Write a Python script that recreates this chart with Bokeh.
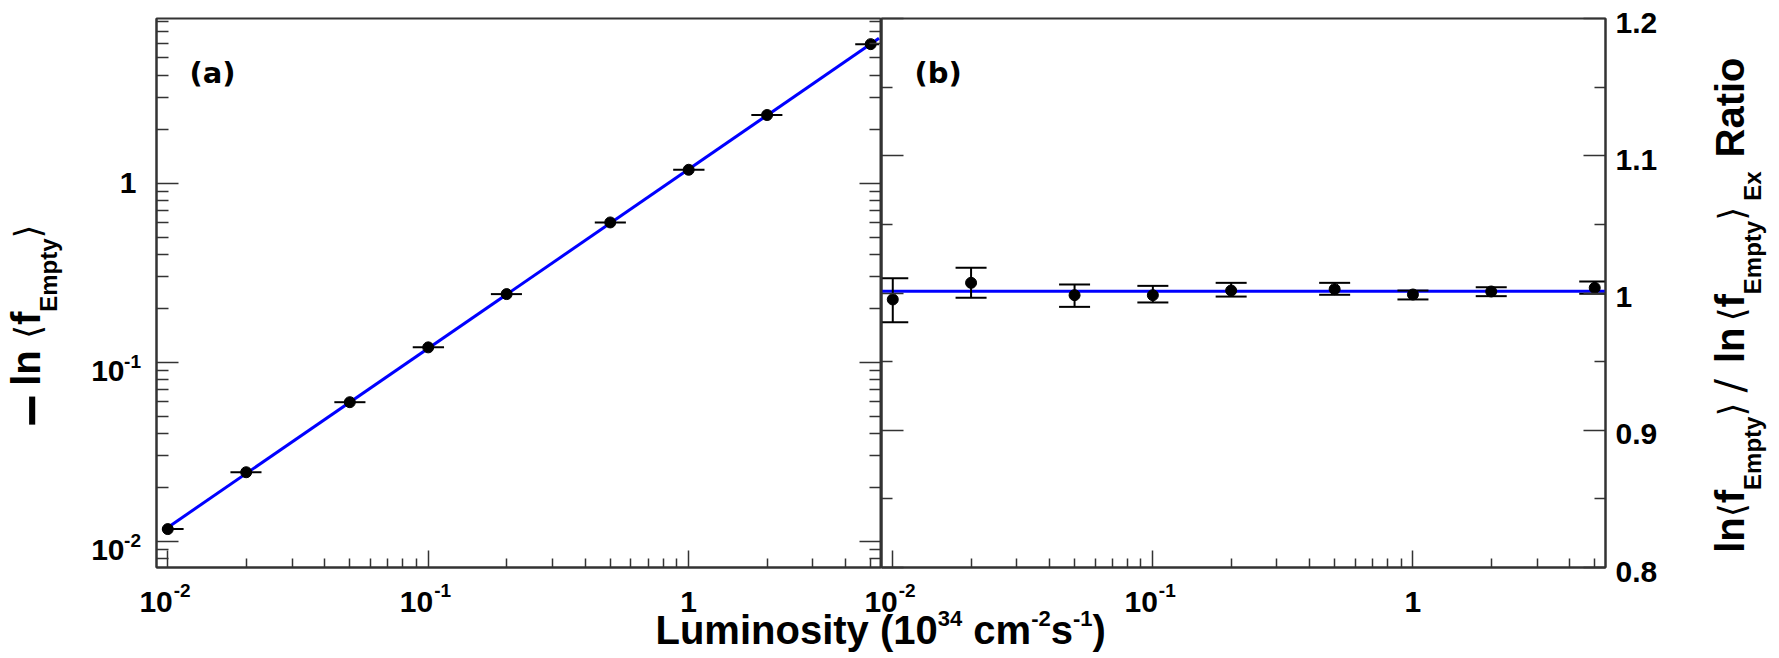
import math
from bokeh.plotting import figure
from bokeh.models import Label, LogAxis, LinearAxis, FixedTicker, Range1d
from bokeh.layouts import row
from bokeh.embed import file_html
from bokeh.resources import INLINE

# ---------------- data ----------------
lumi = [0.01, 0.02, 0.05, 0.1, 0.2, 0.5, 1, 2, 5]
neg_ln_f = [0.0117, 0.0243, 0.0598, 0.121, 0.240, 0.603, 1.187, 2.40, 5.97]
lumi_err_lo = [0.0095, 0.0174, 0.0436, 0.0872, 0.174, 0.436, 0.872, 1.74, 4.36]
lumi_err_hi = [0.0115, 0.0229, 0.0574, 0.115, 0.229, 0.574, 1.15, 2.29, 5.38]
fit_a_x = [0.01, 5.38]
fit_a_y = [0.01195, 6.43]

ratio = [0.9953, 1.0074, 0.9984, 0.9984, 1.0018, 1.0028, 0.9989, 1.0011, 1.0038]
ratio_lo = [0.9787, 0.9965, 0.9899, 0.9931, 0.9974, 0.9987, 0.9953, 0.9977, 0.9994]
ratio_hi = [1.0108, 1.0184, 1.0062, 1.0052, 1.0074, 1.0074, 1.0018, 1.0042, 1.0084]
fit_b_x = [0.00905, 5.5]
fit_b_y = [1.0013, 1.0013]

x_range_lim = [0.00905, 5.5]
ya_range_lim = [0.00714, 8.3]
yb_range_lim = [0.8, 1.2]

x_tick_vals = [0.01, 0.1, 1]
x_tick_base = ["10", "10", "1"]
x_tick_exp = ["-2", "-1", ""]
ya_tick_vals = [0.01, 0.1, 1]
ya_tick_base = ["10", "10", "1"]
ya_tick_exp = ["-2", "-1", ""]
yb_tick_vals = [0.8, 0.9, 1.0, 1.1, 1.2]
yb_tick_text = ["0.8", "0.9", "1", "1.1", "1.2"]
yb_minor_vals = [0.85, 0.95, 1.05, 1.15]

# ---------------- geometry / style ----------------
INK = "#333333"
BOLD_FONT = "Liberation Sans"
SYM_FONT = "DejaVu Sans"
LEFT_B = 156          # screen x of panel (a) frame
FRAME_TOP = 18        # screen y of the frames
FRAME_A_W = 725
FRAME_B_W = 724
FRAME_H = 549
P_BORDER = 2          # small top/bottom border of the panel figures
OV_H = 652            # frame height of the text overlays
M = 340               # left border of panel (b) figure (overlaps panel (a))
RIGHT_B = 172
W1 = LEFT_B + FRAME_A_W
W2 = M + FRAME_B_W + RIGHT_B
# overlay frame starts at screen y = P_BORDER (frames of a row are aligned)
OV_ABOVE = FRAME_TOP - P_BORDER
OV_BELOW = OV_H - OV_ABOVE - FRAME_H
K_MID = 0.3465        # baseline lies this many em below a "middle" anchor

W = {' ': 278, '(': 333, ')': 333, '.': 278, '-': 333, '\u2212': 584, '/': 278,
     'L': 611, 'u': 611, 'm': 889, 'i': 278, 'n': 611, 'o': 611, 's': 556,
     't': 333, 'y': 556, 'c': 556, 'l': 278, 'f': 333, 'E': 667, 'p': 611,
     'x': 556, 'R': 722, 'a': 556}
for d in "0123456789":
    W[d] = 556


def adv(text, size):
    return sum(W.get(c, 556) for c in text) * size / 1000.0


def log_minor(lo, hi):
    out = []
    for e in range(-4, 2):
        for m in range(2, 10):
            v = m * 10.0 ** e
            if lo <= v <= hi:
                out.append(v)
    return out


def style_axis(ax, major, minor):
    ax.major_tick_in = major
    ax.major_tick_out = 0
    ax.minor_tick_in = minor
    ax.minor_tick_out = 0
    ax.major_tick_line_color = INK
    ax.minor_tick_line_color = INK
    ax.major_tick_line_width = 1.5
    ax.minor_tick_line_width = 1.5
    ax.axis_line_color = INK
    ax.axis_line_width = 2
    ax.major_label_text_font_size = "0px"
    ax.major_label_text_color = None
    ax.major_label_standoff = 0


def lab(fig, x, y, text, xo, yo, size, font=BOLD_FONT, style="bold",
        align="left", rotated=False):
    """(xo, yo) place the text baseline; converted to a middle anchor."""
    k = K_MID * size
    if rotated:
        xo, ang = xo - k, math.pi / 2
    else:
        yo, ang = yo + k, 0.0
    fig.add_layout(Label(x=x, y=y, x_offset=xo, y_offset=yo, text=text,
                         text_font=font, text_font_size=f"{size}px",
                         text_font_style=style, text_align=align,
                         text_baseline="middle", text_color="black",
                         angle=ang))


def runs(fig, x, y, bx, by, pieces, rotated=False):
    pos = 0.0
    for text, font, size, style, shift, a in pieces:
        if a is None:
            a = adv(text, size)
        if text.strip():
            if rotated:
                lab(fig, x, y, text, bx - shift, by + pos, size, font, style,
                    rotated=True)
            else:
                lab(fig, x, y, text, bx + pos, by + shift, size, font, style)
        pos += a


def panel_fig(y_type, y_rng, mb_left, frame_w, mb_right):
    p = figure(title=None, x_axis_type="log", y_axis_type=y_type,
               x_range=Range1d(*x_range_lim), y_range=Range1d(*y_rng),
               frame_width=frame_w, frame_height=FRAME_H,
               min_border_left=mb_left, min_border_right=mb_right,
               min_border_top=P_BORDER, min_border_bottom=P_BORDER,
               output_backend="svg", toolbar_location=None)
    p.grid.visible = False
    p.outline_line_color = INK
    p.outline_line_width = 2
    p.background_fill_color = "white"
    p.xaxis.ticker = FixedTicker(ticks=x_tick_vals,
                                 minor_ticks=log_minor(*x_range_lim))
    style_axis(p.xaxis[0], 17, 9)
    return p


def extend(lo, hi, frame_px, before_px, after_px, log):
    """Range of a text overlay, so that the panel's own range falls on the
    same screen pixels as in the panel figure."""
    if log:
        a, b = math.log10(lo), math.log10(hi)
        d = (b - a) / frame_px
        return 10 ** (a - before_px * d), 10 ** (b + after_px * d)
    d = (hi - lo) / frame_px
    return lo - before_px * d, hi + after_px * d


def overlay_fig(width, x_rng, y_rng, y_type):
    t = figure(title=None, x_axis_type="log", y_axis_type=y_type,
               x_range=Range1d(*x_rng), y_range=Range1d(*y_rng),
               frame_width=width, frame_height=OV_H,
               min_border=0, x_axis_location=None, y_axis_location=None,
               output_backend="svg", toolbar_location=None)
    t.grid.visible = False
    t.outline_line_color = None
    t.background_fill_color = None
    t.border_fill_color = None
    return t


# ---------------- panel (a): marks ----------------
p1 = panel_fig("log", ya_range_lim, LEFT_B, FRAME_A_W, 0)
p1.border_fill_color = "white"
p1.styles = {"margin-top": f"{FRAME_TOP - P_BORDER}px"}
p1.yaxis.ticker = FixedTicker(ticks=ya_tick_vals,
                              minor_ticks=log_minor(*ya_range_lim))
p1.add_layout(LogAxis(ticker=FixedTicker(ticks=ya_tick_vals,
                                         minor_ticks=log_minor(*ya_range_lim))),
              "right")
for ax in p1.yaxis:
    style_axis(ax, 22, 12)

p1.line(fit_a_x, fit_a_y, line_color="#0000ff", line_width=3)
p1.segment(x0=lumi_err_lo, y0=neg_ln_f, x1=lumi_err_hi, y1=neg_ln_f,
           line_color="black", line_width=2)
p1.scatter(lumi, neg_ln_f, size=11, color="black")

# ---------------- panel (b): marks ----------------
p2 = panel_fig("linear", yb_range_lim, M, FRAME_B_W, RIGHT_B)
p2.border_fill_color = None
p2.styles = {"margin-left": f"-{M}px", "margin-top": f"{FRAME_TOP - P_BORDER}px"}
p2.yaxis.ticker = FixedTicker(ticks=yb_tick_vals, minor_ticks=yb_minor_vals)
p2.add_layout(LinearAxis(ticker=FixedTicker(ticks=yb_tick_vals,
                                            minor_ticks=yb_minor_vals)),
              "right")
for ax in p2.yaxis:
    style_axis(ax, 22, 11)

p2.line(fit_b_x, fit_b_y, line_color="#0000ff", line_width=3)
p2.segment(x0=lumi, y0=ratio_lo, x1=lumi, y1=ratio_hi,
           line_color="black", line_width=2)
p2.scatter(lumi, ratio_lo, marker="dash", size=31, line_color="black",
           line_width=2)
p2.scatter(lumi, ratio_hi, marker="dash", size=31, line_color="black",
           line_width=2)
p2.scatter(lumi, ratio, size=11, color="black")

# ---------------- text overlays ----------------
t1 = overlay_fig(W1,
                 extend(*x_range_lim, FRAME_A_W, LEFT_B, 0, True),
                 extend(*ya_range_lim, FRAME_H, OV_BELOW, OV_ABOVE, True), "log")
t1.styles = {"margin-left": f"-{W1 + W2 - M}px"}
t2 = overlay_fig(W2,
                 extend(*x_range_lim, FRAME_B_W, M, RIGHT_B, True),
                 extend(*yb_range_lim, FRAME_H, OV_BELOW, OV_ABOVE, False),
                 "linear")
t2.styles = {"margin-left": f"-{M}px"}

x0a, x1a = x_range_lim
y0a, y1a = ya_range_lim
y0b, y1b = yb_range_lim

lab(t1, x0a, y1a, "(a)", 33, -64.3, 29, font="DejaVu Sans", style="bold")
for v, b, e in zip(ya_tick_vals, ya_tick_base, ya_tick_exp):
    if e:
        lab(t1, x0a, v, b, -32, -19, 30, align="right")
        lab(t1, x0a, v, e, -15.5, -6, 19, align="right")
    else:
        lab(t1, x0a, v, b, -20, -10.5, 30, align="right")
for v, b, e in zip(x_tick_vals, x_tick_base, x_tick_exp):
    if e:
        lab(t1, v, y0a, b, 5, -45, 30, align="right")
        lab(t1, v, y0a, e, 6, -30, 19)
    else:
        lab(t1, v, y0a, b, 0, -45, 30, align="center")

left_title = [
    ("\u2212", BOLD_FONT, 56, "bold", -11.5, 41),
    ("ln", BOLD_FONT, 40, "bold", 0, None),
    (" ", BOLD_FONT, 40, "bold", 0, None),
    ("\u27e8", SYM_FONT, 36, "normal", 0, 14),
    ("f", BOLD_FONT, 40, "bold", 0, None),
    ("Empty", BOLD_FONT, 24, "bold", -17, None),
    ("\u27e9", SYM_FONT, 36, "normal", 0, 14),
]
runs(t1, x0a, y0a, -116.2, 140.7, left_title, rotated=True)

lab(t2, x0a, y1b, "(b)", 33, -64.3, 29, font="DejaVu Sans", style="bold")
for v, t in zip(yb_tick_vals, yb_tick_text):
    lab(t2, x1a, v, t, 10, -14.5, 30)
for v, b, e in zip(x_tick_vals, x_tick_base, x_tick_exp):
    if e:
        lab(t2, v, y0b, b, 5, -45, 30, align="right")
        lab(t2, v, y0b, e, 6, -30, 19)
    else:
        lab(t2, v, y0b, b, 0, -45, 30, align="center")

x_title = [
    ("Luminosity (10", BOLD_FONT, 40, "bold", 0, None),
    ("34", BOLD_FONT, 22, "bold", 18, None),
    (" ", BOLD_FONT, 40, "bold", 0, None),
    ("cm", BOLD_FONT, 40, "bold", 0, None),
    ("-2", BOLD_FONT, 22, "bold", 18, None),
    ("s", BOLD_FONT, 40, "bold", 0, None),
    ("-1", BOLD_FONT, 22, "bold", 18, None),
    (")", BOLD_FONT, 40, "bold", 0, None),
]
runs(t2, x0a, y0b, -226, -76.5, x_title)

right_title = [
    ("ln", BOLD_FONT, 40, "bold", 0, None),
    ("\u27e8", SYM_FONT, 36, "normal", 0, 14),
    ("f", BOLD_FONT, 40, "bold", 0, None),
    ("Empty", BOLD_FONT, 24, "bold", -17, None),
    ("\u27e9", SYM_FONT, 36, "normal", 0, 14),
    (" ", BOLD_FONT, 40, "bold", 0, 10),
    ("/", SYM_FONT, 40, "normal", 0, 13.5),
    (" ", BOLD_FONT, 40, "bold", 0, 16),
    ("ln", BOLD_FONT, 40, "bold", 0, None),
    (" ", BOLD_FONT, 40, "bold", 0, 6),
    ("\u27e8", SYM_FONT, 36, "normal", 0, 14),
    ("f", BOLD_FONT, 40, "bold", 0, None),
    ("Empty", BOLD_FONT, 24, "bold", -17, None),
    ("\u27e9", SYM_FONT, 36, "normal", 0, 14),
    (" ", BOLD_FONT, 40, "bold", 0, 6),
    ("Ex", BOLD_FONT, 24, "bold", -17, None),
    (" ", BOLD_FONT, 40, "bold", 0, 14),
    ("Ratio", BOLD_FONT, 40, "bold", 0, None),
]
runs(t2, x1a, y0b, 138, 14.7, right_title, rotated=True)

layout = row(p1, p2, t1, t2)
open("out.html", "w").write(file_html(layout, INLINE, title="luminosity"))
